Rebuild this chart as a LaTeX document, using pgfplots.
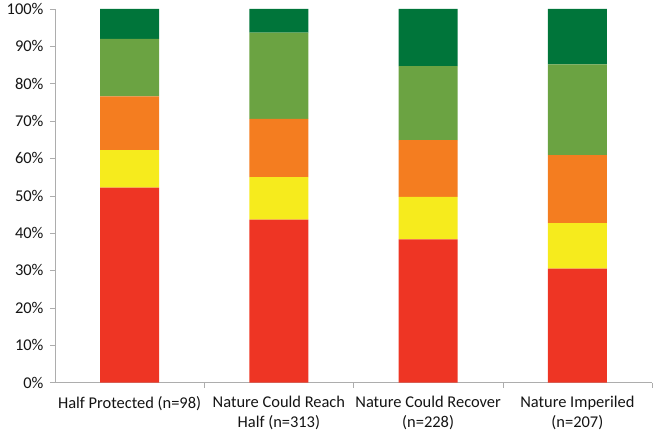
\documentclass[border=0pt]{standalone}
\usepackage{fontspec}
\setmainfont{Carlito}
\usepackage{pgfplots}
\pgfplotsset{compat=1.18}
\definecolor{cred}{HTML}{EE3524}
\definecolor{cyellow}{HTML}{F6EB1D}
\definecolor{corange}{HTML}{F47D20}
\definecolor{clgreen}{HTML}{6BA342}
\definecolor{cdgreen}{HTML}{00753A}
\definecolor{axgray}{HTML}{ADADAD}
\definecolor{txt}{HTML}{141414}
\begin{document}
\begin{tikzpicture}
\begin{axis}[
  at={(0,0)}, anchor=south west,
  scale only axis, width=597bp, height=373.5bp,
  ybar stacked, bar width=0.395,
  xmin=-0.5, xmax=3.5, ymin=0, ymax=100,
  enlargelimits=false,
  axis x line*=bottom, axis y line*=left,
  axis line style={draw=axgray, -},
  tick style={draw=axgray, thin},
  tick align=outside, major tick length=5bp,
  ytick={0,10,...,100},
  yticklabel={\pgfmathprintnumber{\tick}\%},
  /pgf/number format/assume math mode=true,
  tick label style={font=\fontsize{16.5}{19.5}\selectfont, text=txt},
  xtick={0.5,1.5,2.5,3.5}, xticklabels={},
  extra x ticks={0,1,2,3},
  extra x tick labels={Half Protected (n=98), {Nature Could Reach\\Half (n=313)}, {Nature Could Recover\\(n=228)}, {Nature Imperiled\\(n=207)}},
  extra x tick style={major tick length=0pt, xticklabel style={align=center, yshift=-10.5bp}},
  yticklabel style={xshift=-3bp},
]
\addplot[fill=cred, draw=none] coordinates {(0,52.2) (1,43.6) (2,38.3) (3,30.5)};
\addplot[fill=cyellow, draw=none] coordinates {(0,10.0) (1,11.4) (2,11.4) (3,12.2)};
\addplot[fill=corange, draw=none] coordinates {(0,14.4) (1,15.6) (2,15.2) (3,18.2)};
\addplot[fill=clgreen, draw=none] coordinates {(0,15.4) (1,23.1) (2,19.8) (3,24.3)};
\addplot[fill=cdgreen, draw=none] coordinates {(0,8.0) (1,6.3) (2,15.3) (3,14.8)};
\end{axis}
\pgfresetboundingbox
\path[use as bounding box] (-55bp,-53.5bp) rectangle (602bp,382.5bp);
\end{tikzpicture}
\end{document}
